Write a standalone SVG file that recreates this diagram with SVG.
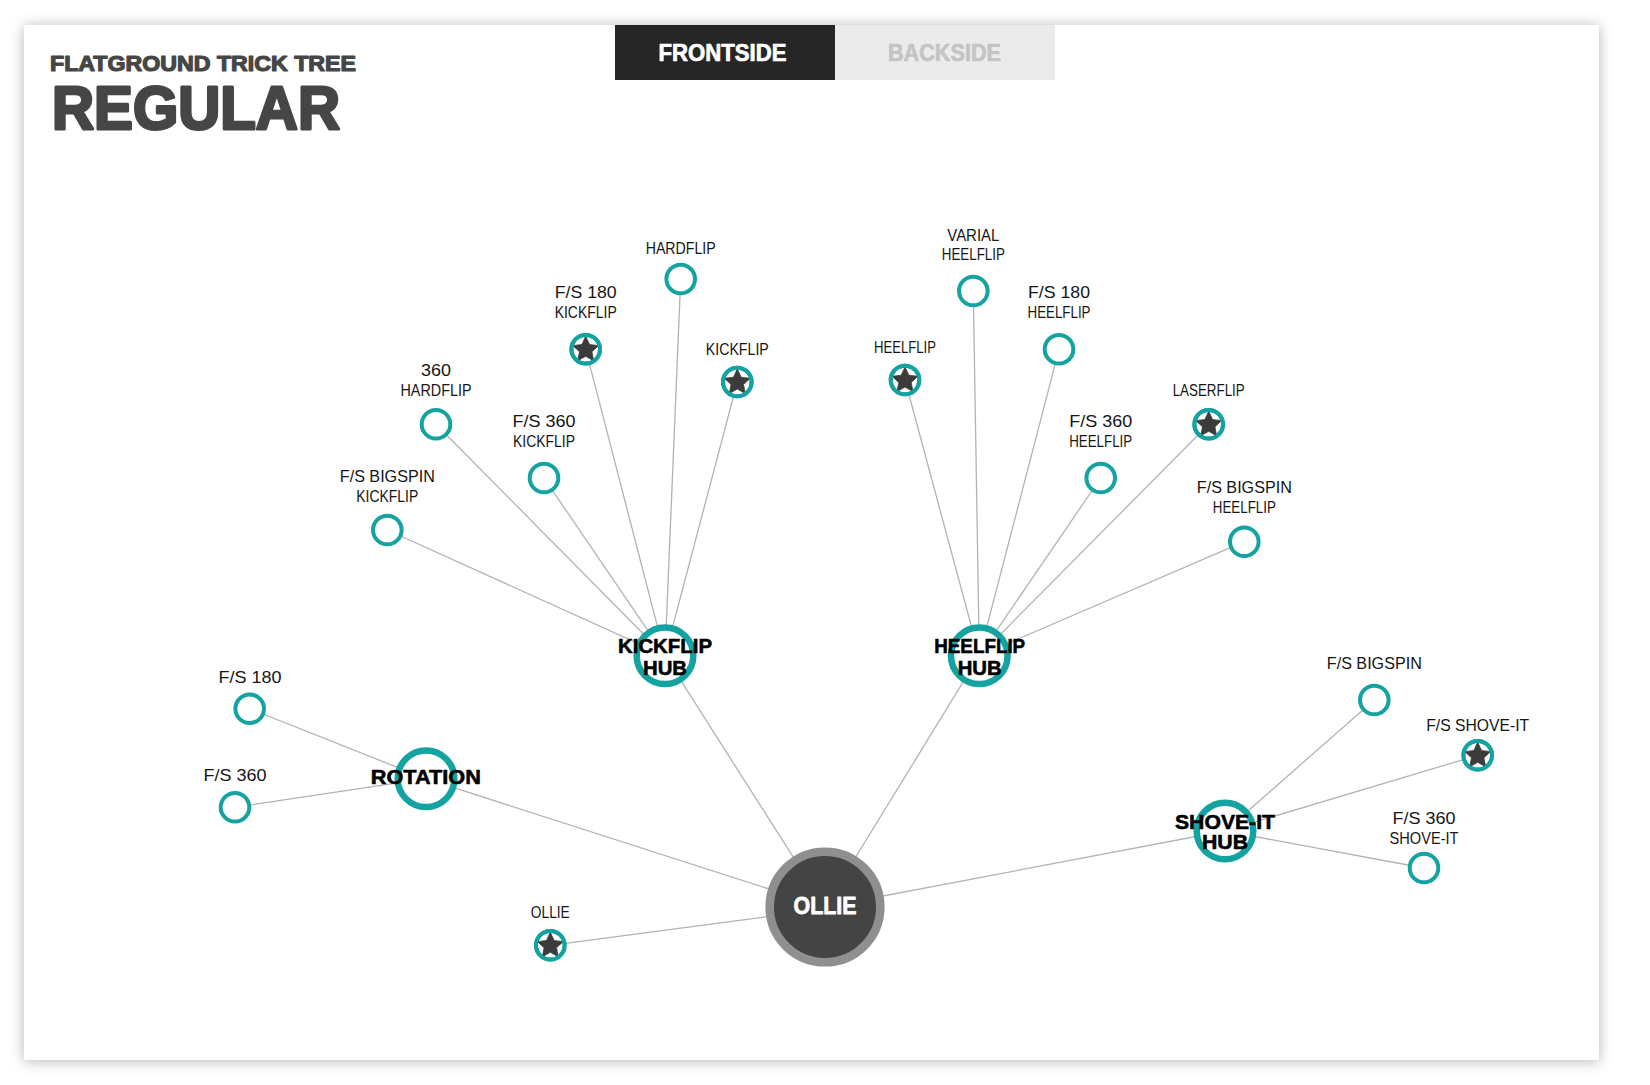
<svg xmlns="http://www.w3.org/2000/svg" width="1650" height="1085" viewBox="0 0 1650 1085">
<defs>
<filter id="shadow" x="-5%" y="-5%" width="110%" height="110%">
<feDropShadow dx="0" dy="1" stdDeviation="7" flood-color="#000" flood-opacity="0.3"/>
</filter>
<path id="star" d="M0,-13.5 L3.85,-5.3 L12.84,-4.17 L6.23,2.02 L7.94,10.92 L0,6.55 L-7.94,10.92 L-6.23,2.02 L-12.84,-4.17 L-3.85,-5.3 Z"/>
</defs>
<style>
.frame{fill:#fff}
.title{font-family:"Liberation Sans",sans-serif;font-weight:bold;fill:#464646;stroke:#464646;stroke-linejoin:round}
.tab{font-family:"Liberation Sans",sans-serif;font-weight:bold;font-size:23px;text-anchor:middle;stroke-linejoin:round}
.edge{stroke:#b3b3b3;stroke-width:1.3;fill:none}
.ring{fill:#fff;stroke:#14a3a0;stroke-width:4}
.ringtop{fill:none;stroke:#14a3a0;stroke-width:4}
.hubring{fill:#fff;stroke:#14a3a0;stroke-width:6.5}
.star{fill:#3b3b3b;stroke:#3b3b3b;stroke-width:0.8;stroke-linejoin:round}
.lbl{font-family:"Liberation Sans",sans-serif;font-size:16.5px;fill:#151515;text-anchor:middle}
.hublbl{font-family:"Liberation Sans",sans-serif;font-weight:bold;font-size:21px;fill:#000;stroke:#000;stroke-width:0.6;stroke-linejoin:round;text-anchor:middle}
.root{font-family:"Liberation Sans",sans-serif;font-weight:bold;font-size:24px;fill:#fff;stroke:#fff;stroke-width:0.8;stroke-linejoin:round;text-anchor:middle}
</style>
<rect x="0" y="0" width="1650" height="1085" fill="#fff"/>
<rect class="frame" x="24" y="25" width="1575" height="1035" filter="url(#shadow)"/>

<g id="header">
<text class="title" x="50" y="71" font-size="22" stroke-width="1.2" textLength="306" lengthAdjust="spacingAndGlyphs">FLATGROUND TRICK TREE</text>
<text class="title" x="52" y="129" font-size="62" stroke-width="3" textLength="288" lengthAdjust="spacingAndGlyphs">REGULAR</text>
</g>

<g id="tabs">
<g id="tab-frontside">
<rect x="615" y="25" width="220" height="55" fill="#262626"/>
<text class="tab" x="722.5" y="60.7" fill="#fff" stroke="#fff" stroke-width="0.7" textLength="128" lengthAdjust="spacingAndGlyphs">FRONTSIDE</text>
</g>
<g id="tab-backside">
<rect x="835" y="25" width="220" height="55" fill="#ebebeb"/>
<text class="tab" x="944.5" y="60.7" fill="#c4c4c4" stroke="#c4c4c4" stroke-width="0.7" textLength="113" lengthAdjust="spacingAndGlyphs">BACKSIDE</text>
</g>
</g>

<g id="connectors">
<line class="edge" x1="825" y1="907" x2="665" y2="655.7"/>
<line class="edge" x1="825" y1="907" x2="979.3" y2="655.7"/>
<line class="edge" x1="825" y1="907" x2="426" y2="778.7"/>
<line class="edge" x1="825" y1="907" x2="1225" y2="831"/>
<line class="edge" x1="825" y1="909" x2="550.3" y2="945.3"/>
<line class="edge" x1="665" y1="655.7" x2="387.3" y2="530"/>
<line class="edge" x1="665" y1="655.7" x2="436" y2="424.3"/>
<line class="edge" x1="665" y1="655.7" x2="544" y2="478"/>
<line class="edge" x1="665" y1="655.7" x2="585.7" y2="349.3"/>
<line class="edge" x1="665" y1="655.7" x2="680.7" y2="279"/>
<line class="edge" x1="665" y1="655.7" x2="737.3" y2="382"/>
<line class="edge" x1="979.3" y1="655.7" x2="905" y2="380"/>
<line class="edge" x1="979.3" y1="655.7" x2="973.3" y2="291"/>
<line class="edge" x1="979.3" y1="655.7" x2="1059" y2="349.3"/>
<line class="edge" x1="979.3" y1="655.7" x2="1100.7" y2="478"/>
<line class="edge" x1="979.3" y1="655.7" x2="1208.7" y2="424.3"/>
<line class="edge" x1="979.3" y1="655.7" x2="1244.3" y2="541.7"/>
<line class="edge" x1="426" y1="778.7" x2="249.7" y2="708.7"/>
<line class="edge" x1="426" y1="778.7" x2="235" y2="807.3"/>
<line class="edge" x1="1225" y1="831" x2="1374.3" y2="700"/>
<line class="edge" x1="1225" y1="831" x2="1477.7" y2="755.3"/>
<line class="edge" x1="1225" y1="831" x2="1424" y2="868"/>
</g>

<g id="node-hardflip">
<circle class="ring" cx="680.7" cy="279" r="14.3"/>
<text class="lbl" x="680.7" y="254" textLength="70" lengthAdjust="spacingAndGlyphs">HARDFLIP</text>
</g>
<g id="node-fs180-kickflip">
<circle class="ring" cx="585.7" cy="349.3" r="14.3"/>
<use href="#star" class="star" x="585.7" y="349.8"/>
<circle class="ringtop" cx="585.7" cy="349.3" r="14.3"/>
<text class="lbl" x="585.7" y="298" textLength="62" lengthAdjust="spacingAndGlyphs">F/S 180</text>
<text class="lbl" x="585.7" y="318" textLength="62" lengthAdjust="spacingAndGlyphs">KICKFLIP</text>
</g>
<g id="node-kickflip">
<circle class="ring" cx="737.3" cy="382" r="14.3"/>
<use href="#star" class="star" x="737.3" y="382.5"/>
<circle class="ringtop" cx="737.3" cy="382" r="14.3"/>
<text class="lbl" x="737.3" y="355" textLength="63" lengthAdjust="spacingAndGlyphs">KICKFLIP</text>
</g>
<g id="node-360-hardflip">
<circle class="ring" cx="436" cy="424.3" r="14.3"/>
<text class="lbl" x="436" y="376" textLength="30" lengthAdjust="spacingAndGlyphs">360</text>
<text class="lbl" x="436" y="396" textLength="71" lengthAdjust="spacingAndGlyphs">HARDFLIP</text>
</g>
<g id="node-fs360-kickflip">
<circle class="ring" cx="544" cy="478" r="14.3"/>
<text class="lbl" x="544" y="426.7" textLength="63" lengthAdjust="spacingAndGlyphs">F/S 360</text>
<text class="lbl" x="544" y="446.7" textLength="62" lengthAdjust="spacingAndGlyphs">KICKFLIP</text>
</g>
<g id="node-fsbigspin-kickflip">
<circle class="ring" cx="387.3" cy="530" r="14.3"/>
<text class="lbl" x="387.3" y="481.7" textLength="95" lengthAdjust="spacingAndGlyphs">F/S BIGSPIN</text>
<text class="lbl" x="387.3" y="501.7" textLength="62" lengthAdjust="spacingAndGlyphs">KICKFLIP</text>
</g>
<g id="node-heelflip">
<circle class="ring" cx="905" cy="380" r="14.3"/>
<use href="#star" class="star" x="905" y="380.5"/>
<circle class="ringtop" cx="905" cy="380" r="14.3"/>
<text class="lbl" x="905" y="353.3" textLength="62" lengthAdjust="spacingAndGlyphs">HEELFLIP</text>
</g>
<g id="node-varial-heelflip">
<circle class="ring" cx="973.3" cy="291" r="14.3"/>
<text class="lbl" x="973.3" y="240.7" textLength="52" lengthAdjust="spacingAndGlyphs">VARIAL</text>
<text class="lbl" x="973.3" y="260" textLength="63" lengthAdjust="spacingAndGlyphs">HEELFLIP</text>
</g>
<g id="node-fs180-heelflip">
<circle class="ring" cx="1059" cy="349.3" r="14.3"/>
<text class="lbl" x="1059" y="298.3" textLength="62" lengthAdjust="spacingAndGlyphs">F/S 180</text>
<text class="lbl" x="1059" y="318.3" textLength="63" lengthAdjust="spacingAndGlyphs">HEELFLIP</text>
</g>
<g id="node-laserflip">
<circle class="ring" cx="1208.7" cy="424.3" r="14.3"/>
<use href="#star" class="star" x="1208.7" y="424.8"/>
<circle class="ringtop" cx="1208.7" cy="424.3" r="14.3"/>
<text class="lbl" x="1208.7" y="395.7" textLength="72" lengthAdjust="spacingAndGlyphs">LASERFLIP</text>
</g>
<g id="node-fs360-heelflip">
<circle class="ring" cx="1100.7" cy="478" r="14.3"/>
<text class="lbl" x="1100.7" y="426.7" textLength="63" lengthAdjust="spacingAndGlyphs">F/S 360</text>
<text class="lbl" x="1100.7" y="446.7" textLength="63" lengthAdjust="spacingAndGlyphs">HEELFLIP</text>
</g>
<g id="node-fsbigspin-heelflip">
<circle class="ring" cx="1244.3" cy="541.7" r="14.3"/>
<text class="lbl" x="1244.3" y="492.7" textLength="95" lengthAdjust="spacingAndGlyphs">F/S BIGSPIN</text>
<text class="lbl" x="1244.3" y="512.7" textLength="63" lengthAdjust="spacingAndGlyphs">HEELFLIP</text>
</g>
<g id="node-fs180">
<circle class="ring" cx="249.7" cy="708.7" r="14.3"/>
<text class="lbl" x="250" y="683.3" textLength="63" lengthAdjust="spacingAndGlyphs">F/S 180</text>
</g>
<g id="node-fs360">
<circle class="ring" cx="235" cy="807.3" r="14.3"/>
<text class="lbl" x="235" y="780.7" textLength="63" lengthAdjust="spacingAndGlyphs">F/S 360</text>
</g>
<g id="node-ollie-trick">
<circle class="ring" cx="550.3" cy="945.3" r="14.3"/>
<use href="#star" class="star" x="550.3" y="945.8"/>
<circle class="ringtop" cx="550.3" cy="945.3" r="14.3"/>
<text class="lbl" x="550.3" y="918.3" textLength="39" lengthAdjust="spacingAndGlyphs">OLLIE</text>
</g>
<g id="node-fsbigspin">
<circle class="ring" cx="1374.3" cy="700" r="14.3"/>
<text class="lbl" x="1374.3" y="669.3" textLength="95" lengthAdjust="spacingAndGlyphs">F/S BIGSPIN</text>
</g>
<g id="node-fs-shoveit">
<circle class="ring" cx="1477.7" cy="755.3" r="14.3"/>
<use href="#star" class="star" x="1477.7" y="755.8"/>
<circle class="ringtop" cx="1477.7" cy="755.3" r="14.3"/>
<text class="lbl" x="1477.7" y="730.7" textLength="103" lengthAdjust="spacingAndGlyphs">F/S SHOVE-IT</text>
</g>
<g id="node-fs360-shoveit">
<circle class="ring" cx="1424" cy="868" r="14.3"/>
<text class="lbl" x="1424" y="824" textLength="63" lengthAdjust="spacingAndGlyphs">F/S 360</text>
<text class="lbl" x="1424" y="844" textLength="69" lengthAdjust="spacingAndGlyphs">SHOVE-IT</text>
</g>

<g id="hub-kickflip">
<circle class="hubring" cx="665" cy="655.7" r="28.3"/>
<text class="hublbl" x="665" y="653.3" textLength="94" lengthAdjust="spacingAndGlyphs">KICKFLIP</text>
<text class="hublbl" x="665" y="675" textLength="44" lengthAdjust="spacingAndGlyphs">HUB</text>
</g>
<g id="hub-heelflip">
<circle class="hubring" cx="979.3" cy="655.7" r="28.3"/>
<text class="hublbl" x="979.7" y="653.3" textLength="91" lengthAdjust="spacingAndGlyphs">HEELFLIP</text>
<text class="hublbl" x="979.7" y="675" textLength="44" lengthAdjust="spacingAndGlyphs">HUB</text>
</g>
<g id="hub-rotation">
<circle class="hubring" cx="426" cy="778.7" r="28.3"/>
<text class="hublbl" x="425.8" y="784" textLength="110" lengthAdjust="spacingAndGlyphs">ROTATION</text>
</g>
<g id="hub-shoveit">
<circle class="hubring" cx="1225" cy="831" r="28.3"/>
<text class="hublbl" x="1225" y="829" textLength="100" lengthAdjust="spacingAndGlyphs">SHOVE-IT</text>
<text class="hublbl" x="1225" y="849.3" textLength="46" lengthAdjust="spacingAndGlyphs">HUB</text>
</g>

<g id="root-ollie">
<circle cx="825" cy="907" r="55.3" fill="#444" stroke="#8f8f8f" stroke-width="8.6"/>
<text class="root" x="825" y="914.3" textLength="63" lengthAdjust="spacingAndGlyphs">OLLIE</text>
</g>
</svg>
